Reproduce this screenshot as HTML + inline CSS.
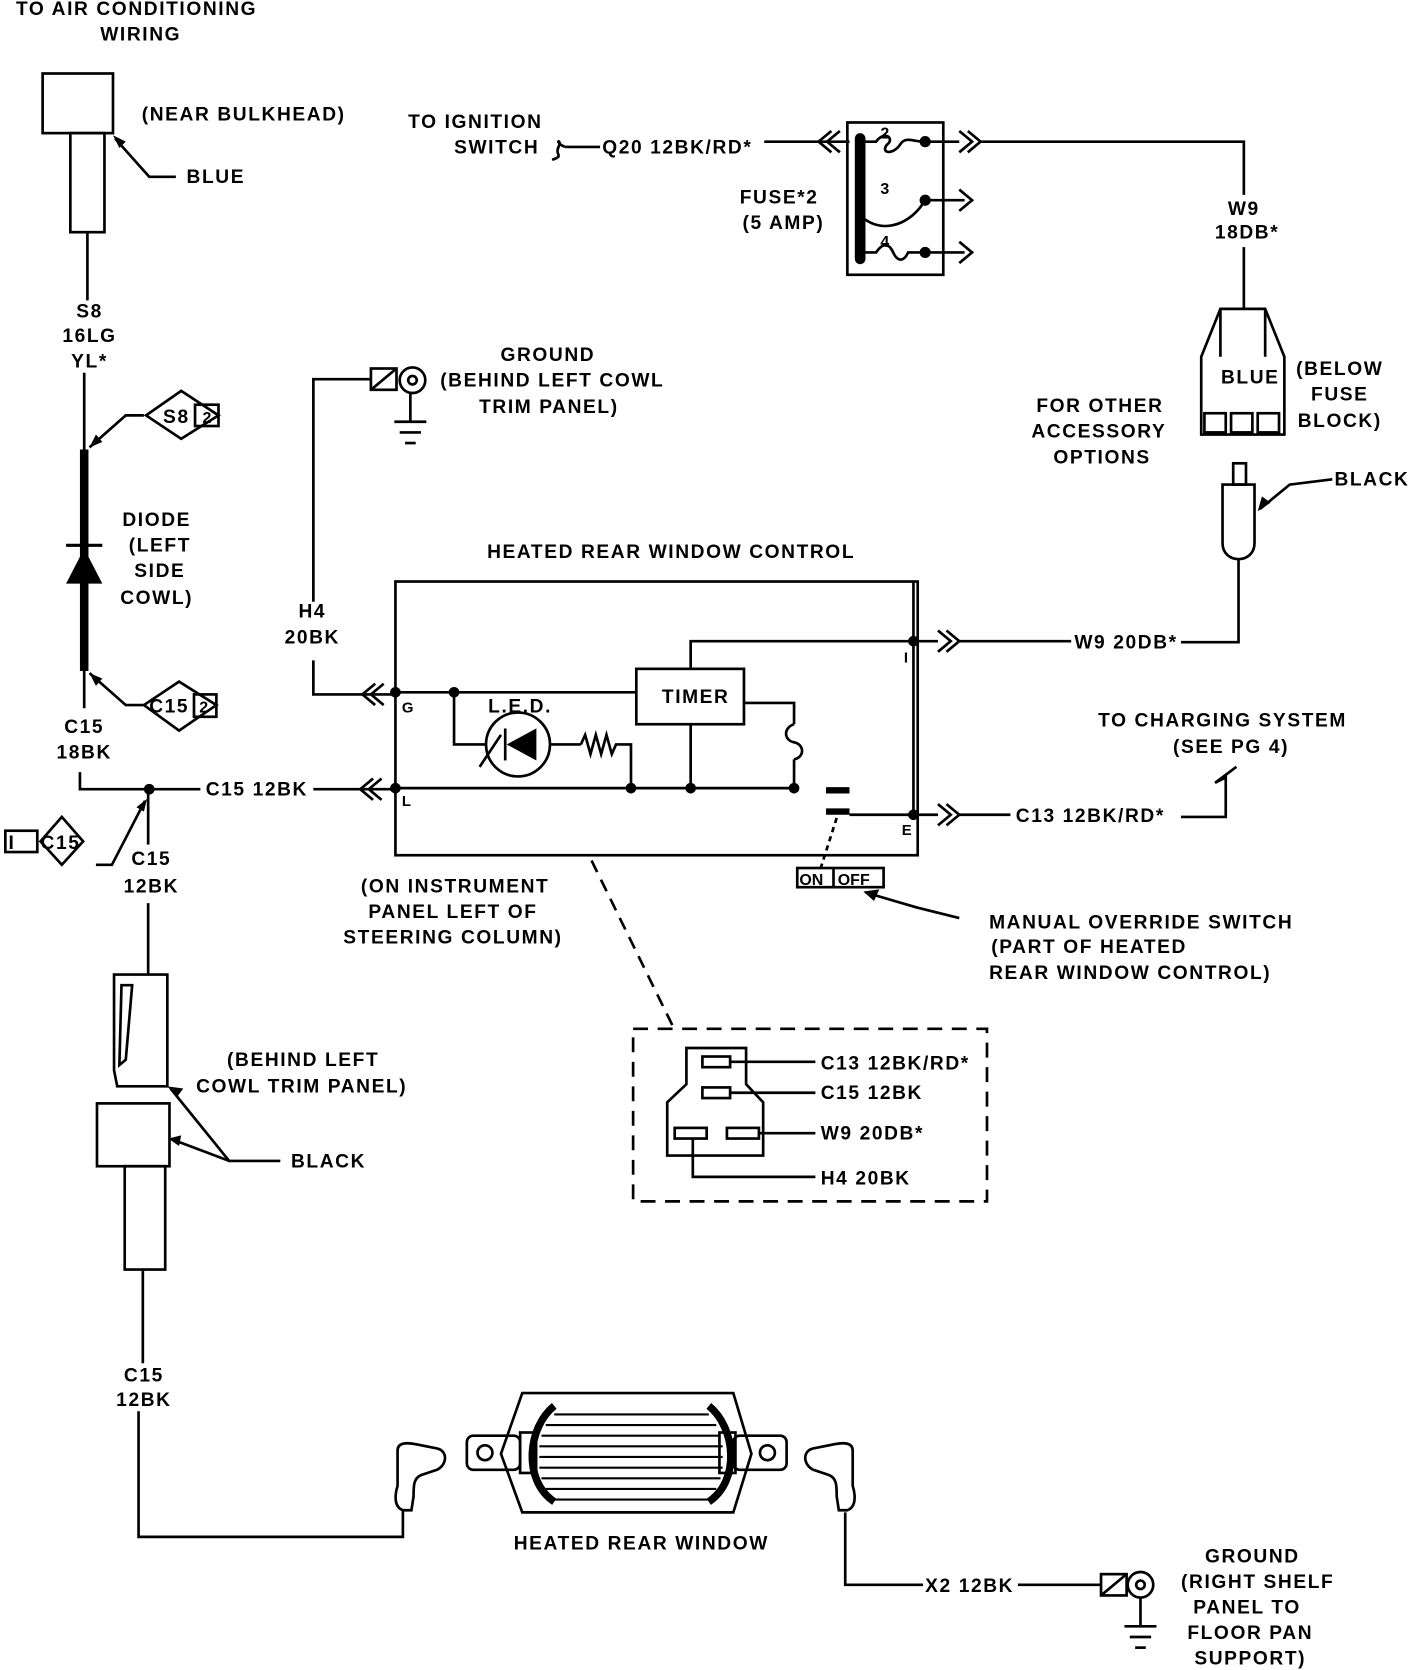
<!DOCTYPE html>
<html><head><meta charset="utf-8"><style>
html,body{margin:0;padding:0;background:#fff}
svg{display:block}
text{font-family:"Liberation Sans",sans-serif;font-weight:bold;font-size:18px;letter-spacing:1.5px;fill:#000}
.m{text-anchor:middle}
</style></head><body>
<svg width="1408" height="1670" viewBox="0 0 1321 1568" preserveAspectRatio="none" xmlns="http://www.w3.org/2000/svg">
<g stroke="#000" stroke-width="2.5" fill="none">
<rect x="40" y="69" width="66" height="56"/>
<rect x="66" y="125" width="32" height="93"/>
<line x1="82" y1="218" x2="82" y2="282"/>
<polyline points="165,166 140,166 108,130"/>
<line x1="79" y1="350" x2="79" y2="422"/>
<line x1="79" y1="422" x2="79" y2="630" stroke-width="8"/>
<line x1="62" y1="512" x2="96" y2="512" stroke-width="3"/>
<line x1="79" y1="630" x2="79" y2="665"/>
<polyline points="75,725 75,741 188,741"/>
<line x1="294" y1="741" x2="371" y2="741"/>
<polyline points="350,731 338,741 350,751"/><polyline points="358,731 346,741 358,751"/>
<polygon points="137,390 170,367 205,390 170,412"/>
<rect x="183" y="380" width="22" height="20"/>
<polyline points="135,390 118,390 84,420"/>
<polygon points="135,662 168,640 203,662 168,686"/>
<rect x="182" y="652" width="21" height="21"/>
<polyline points="135,662 118,662 84,632"/>
<polygon points="38,790 58,767 78,790 58,812"/>
<rect x="5" y="780" width="30" height="20"/>
<polyline points="90,812 105,812 136,752"/>
<line x1="139" y1="741" x2="139" y2="793"/>
<line x1="139" y1="848" x2="139" y2="915"/>
<path d="M107,915 L157,915 L157,1020 L110,1020 L107,1005 Z"/>
<path d="M114,925 L124,925 L118,995 L112,1000 Z"/>
<rect x="91" y="1036" width="68" height="59"/>
<rect x="117" y="1095" width="38" height="97"/>
<line x1="134" y1="1192" x2="134" y2="1280"/>
<polyline points="263,1090 215,1090 160,1022"/>
<line x1="215" y1="1090" x2="162" y2="1070"/>
<polyline points="130,1325 130,1443 378,1443 378,1418"/>
<path d="M378,1418 C370,1415 370,1405 373,1395 L373,1362 C373,1355 380,1354 390,1356 L410,1360 C420,1362 420,1375 410,1380 L395,1385 C388,1388 388,1395 388,1405 L386,1418 Z"/>
<path d="M490,1308 L688,1308 L705,1365 L688,1420 L490,1420 L470,1365 Z"/>
<path d="M520,1320 C495,1340 490,1390 520,1410" stroke-width="7"/>
<path d="M665,1320 C690,1340 695,1390 665,1410" stroke-width="7"/>
<g stroke-width="2">
<line x1="520" y1="1328" x2="665" y2="1328"/><line x1="512" y1="1338" x2="672" y2="1338"/>
<line x1="508" y1="1348" x2="676" y2="1348"/><line x1="506" y1="1358" x2="678" y2="1358"/>
<line x1="506" y1="1368" x2="678" y2="1368"/><line x1="506" y1="1378" x2="678" y2="1378"/>
<line x1="508" y1="1388" x2="676" y2="1388"/><line x1="512" y1="1398" x2="672" y2="1398"/>
<line x1="520" y1="1408" x2="665" y2="1408"/></g>
<rect x="438" y="1348" width="50" height="32" rx="6"/>
<rect x="488" y="1345" width="15" height="38"/>
<circle cx="455" cy="1364" r="7"/>
<rect x="688" y="1348" width="50" height="32" rx="6"/>
<rect x="675" y="1345" width="15" height="38"/>
<circle cx="720" cy="1364" r="7"/>
<path d="M795,1418 C803,1415 803,1405 800,1395 L800,1362 C800,1355 793,1354 783,1356 L763,1360 C753,1362 753,1375 763,1380 L778,1385 C785,1388 785,1395 785,1405 L787,1418 Z"/>
<polyline points="793,1420 793,1488 866,1488"/>
<line x1="955" y1="1488" x2="1033" y2="1488"/>
<rect x="1033" y="1478" width="24" height="20"/><line x1="1033" y1="1498" x2="1057" y2="1478"/>
<circle cx="1070" cy="1488" r="12"/><circle cx="1070" cy="1488" r="4"/>
<line x1="1070" y1="1500" x2="1070" y2="1527"/>
<line x1="1055" y1="1527" x2="1085" y2="1527"/><line x1="1060" y1="1537" x2="1080" y2="1537"/><line x1="1065" y1="1547" x2="1075" y2="1547"/>
<polyline points="348,356 294,356 294,565"/>
<polyline points="294,620 294,652 371,652"/>
<polyline points="352,642 340,652 352,662"/><polyline points="360,642 348,652 360,662"/>
<rect x="348" y="346" width="24" height="20"/><line x1="348" y1="366" x2="372" y2="346"/>
<circle cx="387" cy="357" r="12"/><circle cx="387" cy="357" r="4"/>
<line x1="385" y1="369" x2="385" y2="395"/>
<line x1="370" y1="396" x2="400" y2="396"/><line x1="375" y1="406" x2="395" y2="406"/><line x1="380" y1="416" x2="390" y2="416"/>
<rect x="371" y="546" width="490" height="257"/>
<line x1="371" y1="650" x2="597" y2="650"/>
<rect x="597" y="628" width="101" height="52"/>
<polyline points="426,650 426,699 456,699"/>
<circle cx="486" cy="699" r="30"/>
<polygon points="502,686 502,712 478,699" fill="#000"/>
<line x1="474" y1="684" x2="474" y2="714"/>
<line x1="450" y1="720" x2="470" y2="690"/>
<line x1="516" y1="699" x2="545" y2="699"/>
<polyline points="545,699 549,690 554,708 559,690 564,708 569,690 574,708 578,699 592,699 592,740"/>
<line x1="371" y1="740" x2="745" y2="740"/>
<line x1="648" y1="680" x2="648" y2="740"/>
<polyline points="648,628 648,602 880,602"/>
<line x1="857" y1="546" x2="857" y2="765"/>
<polyline points="698,660 745,660 745,680"/>
<path d="M745,680 C735,683 735,695 745,697 C755,699 755,711 745,713"/>
<line x1="745" y1="713" x2="745" y2="740"/>
<line x1="775" y1="742" x2="797" y2="742" stroke-width="6"/>
<line x1="775" y1="762" x2="797" y2="762" stroke-width="6"/>
<line x1="797" y1="765" x2="880" y2="765"/>
<line x1="785" y1="768" x2="770" y2="815" stroke-dasharray="5,4"/>
<rect x="748" y="815" width="81" height="18"/><line x1="782" y1="815" x2="782" y2="833"/>
<polyline points="900,862 860,852 812,838"/>
<polyline points="880,592 892,602 880,612"/><polyline points="888,592 900,602 888,612"/>
<line x1="900" y1="602" x2="1005" y2="602"/>
<polyline points="1108,603 1162,603 1162,525"/>
<polyline points="880,755 892,765 880,775"/><polyline points="888,755 900,765 888,775"/>
<line x1="900" y1="765" x2="948" y2="765"/>
<polyline points="1108,767 1150,767 1150,730 1140,735 1160,720"/>
<line x1="555" y1="808" x2="632" y2="965" stroke-dasharray="12,8"/>
<rect x="594" y="966" width="332" height="162" stroke-dasharray="14,9"/>
<path d="M644,984 L700,984 L700,1018 L716,1035 L716,1085 L626,1085 L626,1035 L644,1018 Z"/>
<rect x="659" y="992" width="26" height="10"/><rect x="659" y="1021" width="26" height="10"/>
<rect x="633" y="1059" width="30" height="10"/><rect x="682" y="1059" width="30" height="10"/>
<line x1="685" y1="997" x2="765" y2="997"/><line x1="685" y1="1026" x2="765" y2="1026"/>
<line x1="712" y1="1064" x2="765" y2="1064"/>
<polyline points="650,1069 650,1105 765,1105"/>
<path d="M530,138 C518,132 528,130 524,138 C520,146 530,146 518,150"/>
<line x1="530" y1="138" x2="563" y2="138"/>
<line x1="717" y1="133" x2="797" y2="133"/>
<polyline points="780,123 768,133 780,143"/><polyline points="788,123 776,133 788,143"/>
<rect x="795" y="115" width="90" height="143"/>
<line x1="807" y1="130" x2="807" y2="243" stroke-width="10" stroke-linecap="round"/>
<path d="M810,133 L822,133 C830,122 840,130 832,136 C826,144 838,146 845,135 C850,128 856,133 868,133 L900,133"/>
<path d="M810,205 C830,220 855,210 868,188 L905,188"/>
<path d="M810,237 L822,237 C828,228 834,228 838,237 C842,246 848,246 852,237 L905,237"/>
<circle cx="868" cy="133" r="4" fill="#000"/><circle cx="868" cy="188" r="4" fill="#000"/><circle cx="868" cy="237" r="4" fill="#000"/>
<polyline points="900,123 912,133 900,143"/><polyline points="908,123 920,133 908,143"/>
<polyline points="900,178 912,188 900,198"/><polyline points="900,227 912,237 900,247"/>
<polyline points="920,133 1167,133 1167,183"/>
<line x1="1167" y1="232" x2="1167" y2="290"/>
<path d="M1145,290 L1187,290 L1205,335 L1205,408 L1127,408 L1127,335 Z"/>
<line x1="1145" y1="290" x2="1145" y2="335"/><line x1="1187" y1="290" x2="1187" y2="335"/>
<rect x="1130" y="388" width="20" height="18"/><rect x="1155" y="388" width="20" height="18"/><rect x="1180" y="388" width="20" height="18"/>
<rect x="1157" y="435" width="12" height="20"/>
<path d="M1147,455 L1177,455 L1177,510 C1177,530 1147,530 1147,510 Z"/>
<polyline points="1250,450 1210,455 1182,478"/>
</g>
<g fill="#000">
<circle cx="371" cy="650" r="5"/><circle cx="426" cy="650" r="5"/><circle cx="371" cy="740" r="5"/>
<circle cx="592" cy="740" r="5"/><circle cx="648" cy="740" r="5"/><circle cx="745" cy="740" r="5"/>
<circle cx="857" cy="602" r="5"/><circle cx="857" cy="765" r="5"/><circle cx="140" cy="741" r="5"/>
<polygon points="79,515 62,548 96,548"/>
<polygon points="106,127 118,133 112,139"/><polygon points="84,420 90,408 96,415"/>
<polygon points="84,632 90,644 96,637"/><polygon points="138,750 128,758 135,762"/>
<polygon points="157,1020 166,1030 172,1022"/><polygon points="158,1069 170,1066 168,1076"/>
<polygon points="810,837 825,835 820,846"/><polygon points="1180,480 1184,466 1192,472"/>
</g>
<text x="15" y="14">TO AIR CONDITIONING</text>
<text x="132" y="38" class="m">WIRING</text>
<text x="133" y="113">(NEAR BULKHEAD)</text>
<text x="175" y="172">BLUE</text>
<text x="84" y="298" class="m">S8</text><text x="84" y="321" class="m">16LG</text><text x="84" y="345" class="m">YL*</text>
<text x="153" y="397">S8</text><text x="190" y="397" style="font-size:15px">2</text>
<text x="140" y="669">C15</text><text x="187" y="669" style="font-size:15px">2</text>
<text x="8" y="797">I</text><text x="38" y="797">C15</text>
<text x="147" y="494" class="m">DIODE</text><text x="150" y="518" class="m">(LEFT</text><text x="150" y="542" class="m">SIDE</text><text x="147" y="567" class="m">COWL)</text>
<text x="79" y="688" class="m">C15</text><text x="79" y="712" class="m">18BK</text>
<text x="193" y="747">C15 12BK</text>
<text x="142" y="812" class="m">C15</text><text x="142" y="838" class="m">12BK</text>
<text x="213" y="1001">(BEHIND LEFT</text><text x="184" y="1026">COWL TRIM PANEL)</text>
<text x="273" y="1096">BLACK</text>
<text x="135" y="1297" class="m">C15</text><text x="135" y="1320" class="m">12BK</text>
<text x="482" y="1455">HEATED REAR WINDOW</text>
<text x="868" y="1495">X2 12BK</text>
<text x="1175" y="1467" class="m">GROUND</text><text x="1180" y="1491" class="m">(RIGHT SHELF</text><text x="1170" y="1515" class="m">PANEL TO</text><text x="1173" y="1539" class="m">FLOOR PAN</text><text x="1173" y="1563" class="m">SUPPORT)</text>
<text x="293" y="580" class="m">H4</text><text x="293" y="604" class="m">20BK</text>
<text x="514" y="339" class="m">GROUND</text><text x="413" y="363">(BEHIND LEFT COWL</text><text x="515" y="388" class="m">TRIM PANEL)</text>
<text x="457" y="524">HEATED REAR WINDOW CONTROL</text>
<text x="621" y="660">TIMER</text>
<text x="458" y="669">L.E.D.</text>
<text x="377" y="669" style="font-size:14px">G</text><text x="377" y="757" style="font-size:14px">L</text>
<text x="848" y="622" style="font-size:14px">I</text><text x="846" y="784" style="font-size:14px">E</text>
<text x="750" y="831" style="font-size:15px;letter-spacing:0">ON</text><text x="786" y="831" style="font-size:15px;letter-spacing:0">OFF</text>
<text x="1008" y="609">W9 20DB*</text>
<text x="953" y="772">C13 12BK/RD*</text>
<text x="1147" y="682" class="m">TO CHARGING SYSTEM</text><text x="1155" y="707" class="m">(SEE PG 4)</text>
<text x="928" y="872">MANUAL OVERRIDE SWITCH</text><text x="930" y="895">(PART OF HEATED</text><text x="928" y="919">REAR WINDOW CONTROL)</text>
<text x="427" y="838" class="m">(ON INSTRUMENT</text><text x="425" y="862" class="m">PANEL LEFT OF</text><text x="425" y="886" class="m">STEERING COLUMN)</text>
<text x="770" y="1004">C13 12BK/RD*</text><text x="770" y="1032">C15 12BK</text><text x="770" y="1070">W9 20DB*</text><text x="770" y="1112">H4 20BK</text>
<text x="446" y="120" class="m">TO IGNITION</text><text x="466" y="144" class="m">SWITCH</text>
<text x="565" y="144">Q20 12BK/RD*</text>
<text x="731" y="191" class="m">FUSE*2</text><text x="735" y="215" class="m">(5 AMP)</text>
<text x="826" y="130" style="font-size:15px">2</text><text x="826" y="182" style="font-size:15px">3</text><text x="826" y="232" style="font-size:15px">4</text>
<text x="1167" y="202" class="m">W9</text><text x="1170" y="224" class="m">18DB*</text>
<text x="1173" y="360" class="m">BLUE</text>
<text x="1257" y="352" class="m">(BELOW</text><text x="1257" y="376" class="m">FUSE</text><text x="1257" y="401" class="m">BLOCK)</text>
<text x="1032" y="387" class="m">FOR OTHER</text><text x="1031" y="411" class="m">ACCESSORY</text><text x="1034" y="435" class="m">OPTIONS</text>
<text x="1252" y="456">BLACK</text>
</svg>
</body></html>
